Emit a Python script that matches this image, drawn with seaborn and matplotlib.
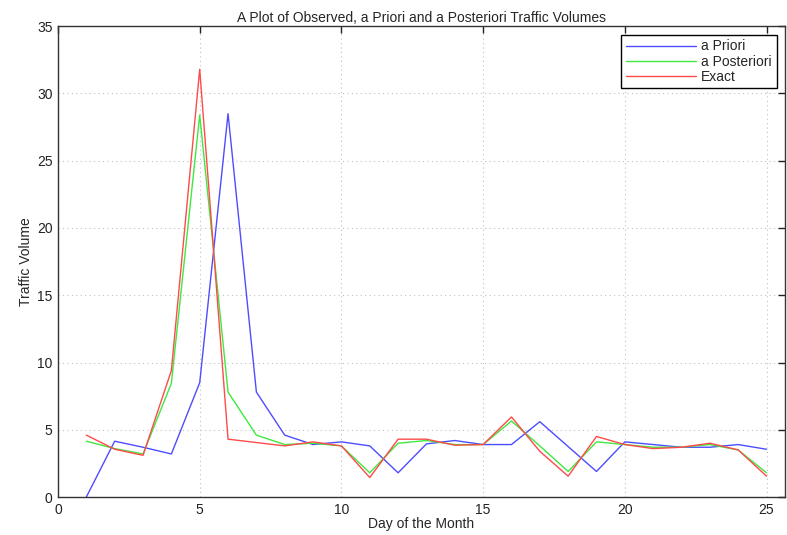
import numpy as np
import pandas as pd
import seaborn as sns
import matplotlib.pyplot as plt

# data
days = list(range(1, 26))
a_priori = [0.0, 4.15, 3.7, 3.2, 8.5, 28.5, 7.8, 4.6, 3.9, 4.1,
            3.8, 1.8, 3.95, 4.2, 3.9, 3.9, 5.6, 3.75, 1.9, 4.1,
            3.9, 3.7, 3.7, 3.9, 3.55]
a_posteriori = [4.15, 3.6, 3.2, 8.45, 28.4, 7.8, 4.6, 3.9, 4.0, 3.8,
                1.8, 4.0, 4.2, 3.9, 3.9, 5.65, 3.8, 1.9, 4.1, 3.9,
                3.7, 3.7, 3.9, 3.5, 1.8]
exact = [4.6, 3.55, 3.1, 9.4, 31.8, 4.3, 4.05, 3.8, 4.1, 3.8,
         1.45, 4.3, 4.3, 3.85, 3.9, 5.95, 3.4, 1.55, 4.5, 3.9,
         3.6, 3.7, 4.0, 3.5, 1.55]

series_names = ['a Priori', 'a Posteriori', 'Exact']
series_colors = ['#4d4dff', '#3fe83f', '#ff4a4a']

df = pd.concat([
    pd.DataFrame({'day': days, 'volume': vals, 'series': name})
    for name, vals in zip(series_names, [a_priori, a_posteriori, exact])
])

sns.set_style('white')
plt.rcParams['font.family'] = ['Liberation Sans', 'DejaVu Sans']

fig = plt.figure(figsize=(7.87, 5.35), dpi=100)
ax = fig.add_axes([0.0737, 0.071, 0.9237, 0.880])

sns.lineplot(data=df, x='day', y='volume', hue='series', hue_order=series_names,
             palette=dict(zip(series_names, series_colors)), linewidth=1.0, ax=ax)

ax.set_xlim(0, 25.65)
ax.set_ylim(0, 35)
ax.set_xticks([0, 5, 10, 15, 20, 25])
ax.set_yticks([0, 5, 10, 15, 20, 25, 30, 35])
ax.grid(True, linestyle=(0, (1, 3)), color='#c0c0c0', linewidth=0.8)
ax.tick_params(direction='in', top=True, right=True, length=5, width=1,
               labelsize=10, colors='#222222', pad=4)
for sp in ax.spines.values():
    sp.set_color('#333333')
    sp.set_linewidth(1.0)

ax.set_xlabel('Day of the Month', fontsize=10, labelpad=0)
ax.set_ylabel('Traffic Volume', fontsize=10, labelpad=3)
ax.set_title('A Plot of Observed, a Priori and a Posteriori Traffic Volumes',
             fontsize=10, pad=3)

leg = ax.legend(loc='upper right', fontsize=10, handlelength=5.0, handletextpad=0.4,
                borderaxespad=0.6, fancybox=False, framealpha=1, borderpad=0.35,
                labelspacing=0.08)
leg.get_frame().set_edgecolor('black')
leg.get_frame().set_linewidth(1.0)

fig.savefig('out.png', dpi=100)
